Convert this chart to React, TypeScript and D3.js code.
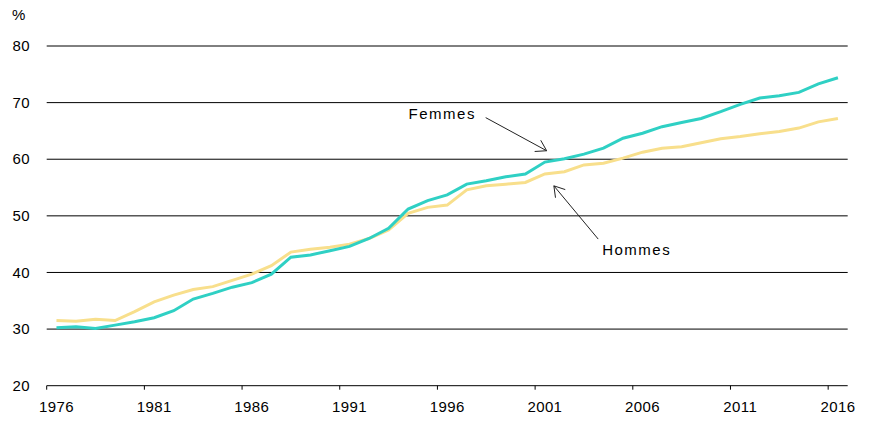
import { useEffect, useRef } from 'react'
import * as d3 from 'd3'

const WIDTH = 871
const HEIGHT = 424

const years = d3.range(1976, 2017)

// Femmes (teal)
const femmes = [
  30.25, 30.4, 30.1, 30.7, 31.3, 32.0, 33.25, 35.3, 36.3, 37.4,
  38.2, 39.7, 42.7, 43.1, 43.85, 44.6, 46.0, 47.8, 51.2, 52.7,
  53.7, 55.6, 56.2, 56.9, 57.4, 59.5, 60.1, 60.9, 61.95, 63.7,
  64.6, 65.75, 66.5, 67.2, 68.4, 69.7, 70.8, 71.2, 71.8, 73.3,
  74.4,
]

// Hommes (yellow)
const hommes = [
  31.5, 31.4, 31.75, 31.5, 33.1, 34.8, 36.0, 37.0, 37.5, 38.6,
  39.7, 41.2, 43.6, 44.1, 44.45, 45.0, 46.0, 47.5, 50.45, 51.5,
  51.9, 54.6, 55.3, 55.6, 55.9, 57.4, 57.8, 59.0, 59.3, 60.2,
  61.25, 61.95, 62.2, 62.9, 63.6, 64.0, 64.5, 64.9, 65.5, 66.6,
  67.2,
]

const yTicks = [20, 30, 40, 50, 60, 70, 80]
const xTickYears = [1976, 1981, 1986, 1991, 1996, 2001, 2006, 2011, 2016]

// annotations, in data units (year, %)
const labels = [
  { text: 'Femmes', x: 1997.47, y: 67.1, anchor: 'end', from: [1997.97, 67.35], to: [2001.09, 61.5] },
  { text: 'Hommes', x: 2003.93, y: 43.0, anchor: 'start', from: [2003.73, 45.9], to: [2001.46, 55.3] },
]

const TEAL = '#2fd0c4'
const YELLOW = '#f8df8c'
const FONT = '"Liberation Sans", Arial, sans-serif'

export default function App() {
  const svgRef = useRef<SVGSVGElement>(null)

  useEffect(() => {
    if (!svgRef.current) return
    const svg = d3.select(svgRef.current)
    svg.selectAll('*').remove()

    const left = 46.7
    const right = 847.7
    const x = d3
      .scaleBand<number>()
      .domain(years)
      .range([left, right])
      .padding(0)
    const bw = x.bandwidth()
    const cx = (yr: number) => (x(yr) ?? 0) + bw / 2
    const xl = d3
      .scaleLinear()
      .domain([1976, 2016])
      .range([cx(1976), cx(2016)])
    const y = d3.scaleLinear().domain([20, 80]).range([385.7, 46])

    // gridlines
    svg
      .append('g')
      .selectAll('line')
      .data(yTicks.filter((t) => t > 20))
      .join('line')
      .attr('x1', left)
      .attr('x2', right)
      .attr('y1', (d) => y(d))
      .attr('y2', (d) => y(d))
      .attr('stroke', '#000')
      .attr('stroke-width', 1)

    // y labels
    svg
      .append('g')
      .selectAll('text')
      .data(yTicks)
      .join('text')
      .attr('x', 30)
      .attr('y', (d) => y(d))
      .attr('dy', '0.35em')
      .attr('text-anchor', 'end')
      .attr('font-family', FONT)
      .attr('font-size', 15)
      .attr('letter-spacing', 0.4)
      .attr('fill', '#000')
      .text((d) => d)

    svg
      .append('text')
      .attr('x', 12)
      .attr('y', 20)
      .attr('font-family', FONT)
      .attr('font-size', 15)
      .attr('fill', '#000')
      .text('%')

    // x axis
    svg
      .append('line')
      .attr('x1', left)
      .attr('x2', right)
      .attr('y1', y(20))
      .attr('y2', y(20))
      .attr('stroke', '#000')
      .attr('stroke-width', 1)

    svg
      .append('g')
      .selectAll('line')
      .data(xTickYears)
      .join('line')
      .attr('x1', (d) => x(d) ?? 0)
      .attr('x2', (d) => x(d) ?? 0)
      .attr('y1', y(20))
      .attr('y2', y(20) + 4)
      .attr('stroke', '#000')
      .attr('stroke-width', 1)

    svg
      .append('g')
      .selectAll('text')
      .data(xTickYears)
      .join('text')
      .attr('x', (d) => cx(d))
      .attr('y', 411.7)
      .attr('text-anchor', 'middle')
      .attr('font-family', FONT)
      .attr('font-size', 15)
      .attr('letter-spacing', 0.4)
      .attr('fill', '#000')
      .text((d) => d)

    // series
    const line = d3
      .line<number>()
      .x((_, i) => cx(years[i]))
      .y((d) => y(d))

    svg
      .append('path')
      .datum(hommes)
      .attr('d', line)
      .attr('fill', 'none')
      .attr('stroke', YELLOW)
      .attr('stroke-width', 3)

    svg
      .append('path')
      .datum(femmes)
      .attr('d', line)
      .attr('fill', 'none')
      .attr('stroke', TEAL)
      .attr('stroke-width', 3)

    // annotations
    labels.forEach((l) => {
      svg
        .append('text')
        .attr('x', xl(l.x))
        .attr('y', y(l.y))
        .attr('text-anchor', l.anchor)
        .attr('font-family', FONT)
        .attr('font-size', 15)
        .attr('letter-spacing', 1.5)
        .attr('fill', '#000')
        .text(l.text)

      const x0 = xl(l.from[0])
      const y0 = y(l.from[1])
      const x1 = xl(l.to[0])
      const y1 = y(l.to[1])
      svg
        .append('line')
        .attr('x1', x0)
        .attr('y1', y0)
        .attr('x2', x1)
        .attr('y2', y1)
        .attr('stroke', '#222')
        .attr('stroke-width', 1)

      const ang = Math.atan2(y0 - y1, x0 - x1)
      const len = 12
      const spread = (32 * Math.PI) / 180
      const wing = (a: number) => [x1 + len * Math.cos(a), y1 + len * Math.sin(a)]
      const [ax, ay] = wing(ang - spread)
      const [bx, by] = wing(ang + spread)
      svg
        .append('path')
        .attr('d', `M${ax},${ay}L${x1},${y1}L${bx},${by}`)
        .attr('fill', 'none')
        .attr('stroke', '#222')
        .attr('stroke-width', 1)
    })
  }, [])

  return (
    <svg
      ref={svgRef}
      width={WIDTH}
      height={HEIGHT}
      style={{ position: 'absolute', left: 0, top: 0, display: 'block', background: '#fff' }}
    />
  )
}
